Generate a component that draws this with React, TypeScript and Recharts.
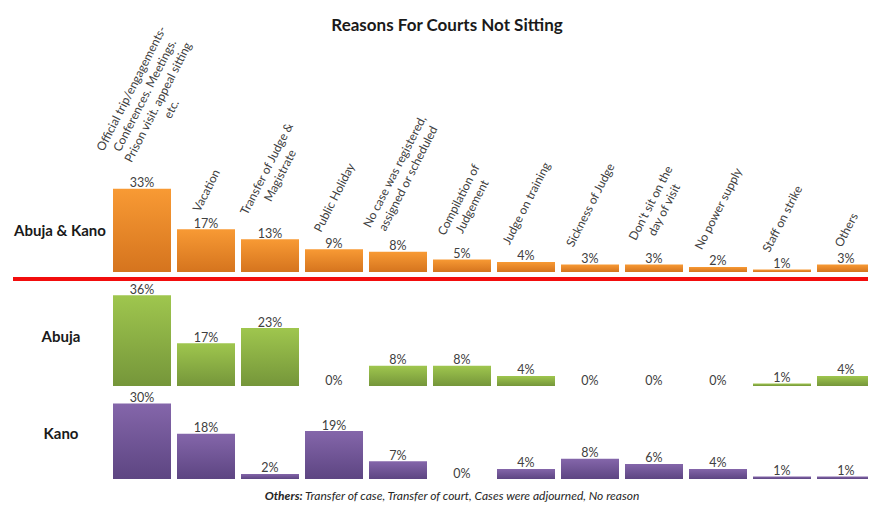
import React from 'react';
import { ComposedChart, Bar, Line, XAxis, YAxis, LabelList } from 'recharts';

const categories = [
  'Official trip/engagements-\nConferences. Meetings.\nPrison visit. appeal sitting\netc.',
  'Vacation',
  'Transfer of Judge &\nMagistrate',
  'Public Holiday',
  'No case was registered,\nassigned or scheduled',
  'Compilation of\nJudgement',
  'Judge on training',
  'Sickness of Judge',
  "Don't sit on the\nday of visit",
  'No power supply',
  'Staff on strike',
  'Others',
];
const abujaKano = [33, 17, 13, 9, 8, 5, 4, 3, 3, 2, 1, 3];
const abuja = [36, 17, 23, 0, 8, 8, 4, 0, 0, 0, 1, 4];
const kano = [30, 18, 2, 19, 7, 0, 4, 8, 6, 4, 1, 1];
const rowNames = ['Abuja & Kano', 'Abuja', 'Kano'];
const title = 'Reasons For Courts Not Sitting';
const footLead = 'Others:';
const footText = ' Transfer of case, Transfer of court, Cases were adjourned, No reason';

const table = categories.map((c, i) => ({ cat: c, ak: abujaKano[i], ab: abuja[i], ka: kano[i] }));

const FONT = 'Lato, "Liberation Sans", sans-serif';
const K = 2.52; // px per percent
const ANGLE = 63;
const LH = 15;
const CAT_FS = 12;

let ctx: CanvasRenderingContext2D | null = null;
function measure(text: string, font: string): number {
  if (!ctx) {
    const c = document.createElement('canvas');
    ctx = c.getContext('2d');
  }
  if (!ctx) return text.length * 6;
  ctx.font = font;
  return ctx.measureText(text).width;
}

const geo = (props: any) => {
  const vb = props.viewBox || {};
  return {
    x: props.x ?? vb.x,
    y: props.y ?? vb.y,
    width: props.width ?? vb.width,
    height: props.height ?? vb.height,
  };
};

const CatLabel = (props: any) => {
  const { x, y, width } = geo(props);
  const value = props.value;
  if (value == null || x == null) return null;
  const lines = String(value).split('\n');
  const n = lines.length;
  const L = Math.max(...lines.map((l) => measure(l, `${CAT_FS}px Lato`)));
  const H = n * LH;
  const t = (ANGLE * Math.PI) / 180;
  const bh = L * Math.sin(t) + H * Math.cos(t);
  const cx = x + width / 2 + 3 * (n - 1);
  const cy = y - 15 - bh / 2;
  return (
    <g transform={`translate(${cx},${cy}) rotate(${-ANGLE})`}>
      {lines.map((l, i) => (
        <text
          key={i}
          x={0}
          y={(i - (n - 1) / 2) * LH}
          textAnchor="middle"
          dominantBaseline="central"
          fontSize={CAT_FS}
          fontFamily={FONT}
          fill="#404040"
        >
          {l}
        </text>
      ))}
    </g>
  );
};

const ValueLabel = (props: any) => {
  const { x, y } = geo(props);
  if (x == null || y == null || props.value == null) return null;
  return (
    <text
      x={x}
      y={y - 6}
      textAnchor="middle"
      dominantBaseline="central"
      fontSize={12.5}
      fontFamily={FONT}
      fill="#404040"
    >
      {`${props.value}%`}
    </text>
  );
};

type RowProps = {
  dataKey: string;
  top: number;
  height: number;
  id: string;
  c1: string;
  c2: string;
  withCats?: boolean;
};

const Row = ({ dataKey, top, height, id, c1, c2, withCats }: RowProps) => (
  <div style={{ position: 'absolute', left: 0, top, width: 880, height }}>
    <ComposedChart
      width={880}
      height={height}
      data={table}
      margin={{ top: 0, right: 2, left: 110, bottom: 0 }}
      barSize={58}
    >
      <defs>
        <linearGradient id={id} x1="0" y1="0" x2="0" y2="1">
          <stop offset="0%" stopColor={c1} />
          <stop offset="100%" stopColor={c2} />
        </linearGradient>
      </defs>
      <XAxis dataKey="cat" type="category" hide />
      <YAxis type="number" domain={[0, height / K]} allowDataOverflow hide />
      <Bar dataKey={dataKey} fill={`url(#${id})`} isAnimationActive={false}>
        {withCats ? <LabelList dataKey="cat" content={CatLabel} /> : null}
      </Bar>
      <Line
        dataKey={dataKey}
        stroke="none"
        dot={false}
        activeDot={false}
        legendType="none"
        isAnimationActive={false}
      >
        <LabelList dataKey={dataKey} content={ValueLabel} />
      </Line>
    </ComposedChart>
  </div>
);

const rowLabel: React.CSSProperties = {
  position: 'absolute',
  fontFamily: FONT,
  fontWeight: 700,
  fontSize: 15,
  color: '#1a1a1a',
  whiteSpace: 'nowrap',
  transform: 'translate(-50%, -50%)',
};

export default function App() {
  return (
    <div
      style={{
        position: 'relative',
        width: 876,
        height: 512,
        margin: -8,
        overflow: 'hidden',
        background: '#fff',
      }}
    >
      <div style={{ position: 'absolute', left: 6, top: 4, right: 0, height: 2, background: '#a6a6a6' }} />
      <div style={{ position: 'absolute', left: 6, top: 4, bottom: 0, width: 2, background: '#a6a6a6' }} />
      <div
        style={{
          position: 'absolute',
          left: 447,
          top: 24,
          transform: 'translate(-50%, -50%)',
          fontFamily: FONT,
          fontWeight: 700,
          fontSize: 17,
          color: '#1a1a1a',
          whiteSpace: 'nowrap',
        }}
      >
        {title}
      </div>
      <Row dataKey="ak" top={0} height={272} id="gOrange" c1="#F89A34" c2="#D5741E" withCats />
      <Row dataKey="ab" top={282} height={104} id="gGreen" c1="#9FC64E" c2="#75963A" />
      <Row dataKey="ka" top={390} height={89} id="gPurple" c1="#8466AA" c2="#5D4582" />
      <div style={{ position: 'absolute', left: 13, right: 0, top: 277, height: 4, background: '#F20D0D' }} />
      <div style={{ ...rowLabel, left: 60, top: 230 }}>{rowNames[0]}</div>
      <div style={{ ...rowLabel, left: 61, top: 336 }}>{rowNames[1]}</div>
      <div style={{ ...rowLabel, left: 61, top: 433 }}>{rowNames[2]}</div>
      <div
        style={{
          position: 'absolute',
          left: 452,
          top: 495,
          transform: 'translate(-50%, -50%)',
          fontFamily: FONT,
          fontStyle: 'italic',
          fontSize: 12,
          color: '#262626',
          whiteSpace: 'nowrap',
        }}
      >
        <b>{footLead}</b>
        {footText}
      </div>
    </div>
  );
}
